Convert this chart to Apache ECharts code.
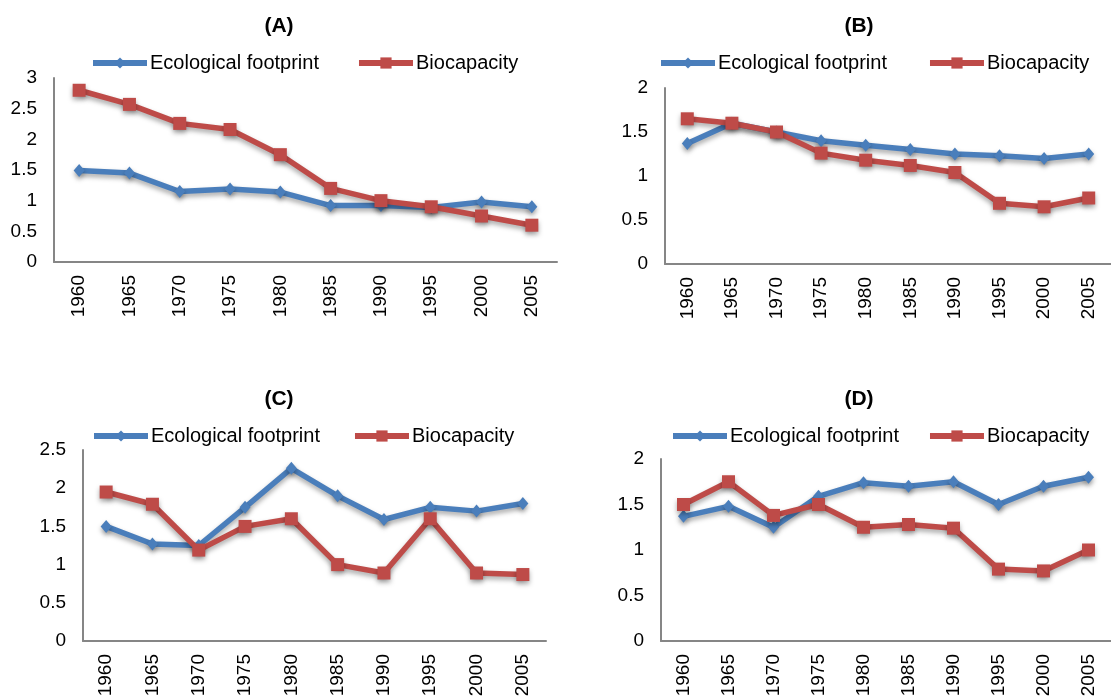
<!DOCTYPE html>
<html>
<head>
<meta charset="utf-8">
<script src="https://cdn.jsdelivr.net/npm/echarts@6/dist/echarts.min.js"></script>
<style>
html,body{margin:0;padding:0;background:#fff;}
#c{width:1111px;height:700px;}
</style>
</head>
<body>
<div id="c"></div>
<script>
var years = ['1960','1965','1970','1975','1980','1985','1990','1995','2000','2005'];
var seriesNames = ['Ecological footprint','Biocapacity'];
var panelTitles = ['(A)','(B)','(C)','(D)'];
var yMax = [3, 2, 2.5, 2];

var footprintA = [1.49,1.45,1.15,1.19,1.14,0.92,0.92,0.89,0.98,0.90];
var bioA       = [2.80,2.57,2.26,2.16,1.75,1.20,1.00,0.90,0.75,0.60];
var footprintB = [1.37,1.60,1.50,1.40,1.35,1.30,1.25,1.23,1.20,1.25];
var bioB       = [1.65,1.60,1.50,1.26,1.18,1.12,1.04,0.69,0.65,0.75];
var footprintC = [1.50,1.27,1.25,1.75,2.26,1.90,1.59,1.75,1.70,1.80];
var bioC       = [1.95,1.79,1.19,1.50,1.60,1.00,0.89,1.60,0.89,0.87];
var footprintD = [1.37,1.48,1.25,1.59,1.74,1.70,1.75,1.50,1.70,1.80];
var bioD       = [1.50,1.75,1.38,1.50,1.25,1.28,1.24,0.79,0.77,1.00];

var footprints = [footprintA, footprintB, footprintC, footprintD];
var bios = [bioA, bioB, bioC, bioD];

var FONT = "'Liberation Sans', Arial, sans-serif";
var BLUE = '#4A7EBB';
var RED = '#BE4B48';
var AXIS = '#868686';

var grids = [
  {left: 54, top: 78, width: 503, height: 184},
  {left: 665, top: 88, width: 459, height: 176},
  {left: 83, top: 450, width: 463, height: 191},
  {left: 661, top: 459, width: 464, height: 182}
];
var titlePos = [[279, 26], [859, 26], [279, 399], [859, 399]];
var legendPos = [
  {left: 90, top: 53, gap: 37},
  {left: 658, top: 53, gap: 40},
  {left: 91, top: 426, gap: 32},
  {left: 670, top: 426, gap: 28}
];

var option = {
  backgroundColor: '#fff',
  animation: false,
  grid: grids.map(function (g) { return Object.assign({containLabel: false}, g); }),
  legend: legendPos.map(function (p) {
    return {
      data: seriesNames,
      left: p.left, top: p.top, padding: 0,
      itemWidth: 54, itemHeight: 14, itemGap: p.gap,
      lineStyle: {width: 6},
      textStyle: {fontFamily: FONT, fontSize: 20, color: '#000', padding: [0, 0, 0, -2]},
      selectedMode: false
    };
  }),
  graphic: titlePos.map(function (p, i) {
    return {
      type: 'text', x: p[0], y: p[1],
      style: {text: panelTitles[i], align: 'center', verticalAlign: 'middle',
              font: 'bold 21px ' + FONT, fill: '#000'}
    };
  }),
  xAxis: grids.map(function (g, i) {
    return {
      type: 'category', gridIndex: i, data: years, boundaryGap: true,
      axisLine: {lineStyle: {color: AXIS, width: 2}},
      axisTick: {show: false},
      axisLabel: {rotate: 90, margin: 13, fontFamily: FONT, fontSize: 19, color: '#000'}
    };
  }),
  yAxis: grids.map(function (g, i) {
    return {
      type: 'value', gridIndex: i, min: 0, max: yMax[i], interval: 0.5,
      axisLine: {show: true, lineStyle: {color: AXIS, width: 2}},
      axisTick: {show: false},
      splitLine: {show: false},
      axisLabel: {margin: 17, fontFamily: FONT, fontSize: 19, color: '#000'}
    };
  }),
  series: []
};

for (var i = 0; i < 4; i++) {
  option.series.push({
    name: seriesNames[0], type: 'line', xAxisIndex: i, yAxisIndex: i,
    data: footprints[i], symbol: 'diamond', symbolSize: [11, 13],
    color: BLUE,
    lineStyle: {width: 5.5, color: BLUE, shadowColor: 'rgba(0,0,0,0.35)', shadowBlur: 5, shadowOffsetY: 3},
    itemStyle: {color: BLUE, shadowColor: 'rgba(0,0,0,0.35)', shadowBlur: 5, shadowOffsetY: 3},
    z: 2
  });
  option.series.push({
    name: seriesNames[1], type: 'line', xAxisIndex: i, yAxisIndex: i,
    data: bios[i], symbol: 'rect', symbolSize: 13,
    color: RED,
    lineStyle: {width: 5.5, color: RED, shadowColor: 'rgba(0,0,0,0.35)', shadowBlur: 5, shadowOffsetY: 3},
    itemStyle: {color: RED, shadowColor: 'rgba(0,0,0,0.35)', shadowBlur: 5, shadowOffsetY: 3},
    z: 3
  });
}

var chart = echarts.init(document.getElementById('c'), null, {renderer: 'canvas'});
chart.setOption(option);
</script>
</body>
</html>
